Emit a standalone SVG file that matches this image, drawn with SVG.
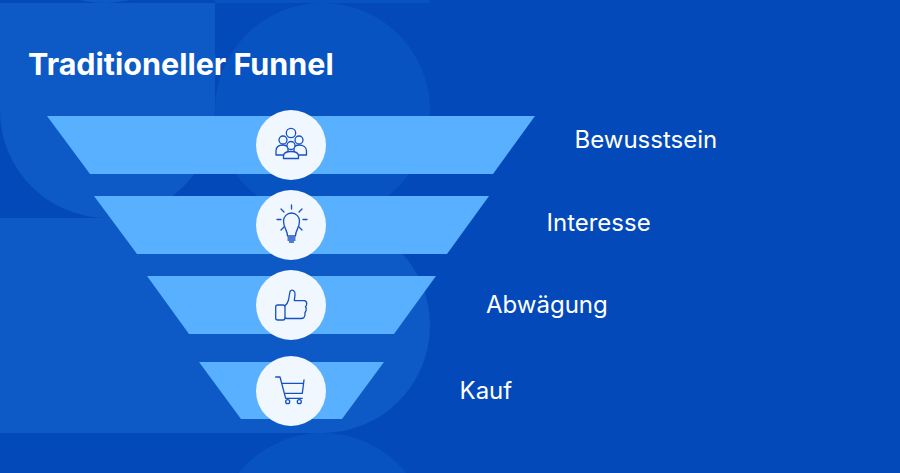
<svg xmlns="http://www.w3.org/2000/svg" width="900" height="473" viewBox="0 0 900 473">
<style>
.bg1{fill:#0d59c5}
.bg2{fill:#0853c2}
.band{fill:#58b0ff}
.disc{fill:#f0f7ff}
.ic{fill:none;stroke:#1650c2;stroke-width:1.3;stroke-linecap:round;stroke-linejoin:round}
.ic .o{fill:#f0f7ff}
.ttl{font-family:"Inter","Liberation Sans",sans-serif;font-weight:700;font-size:30.5px;fill:#fff}
.lbl{font-family:"Inter","Liberation Sans",sans-serif;font-weight:400;font-size:24px;fill:#fff}
</style>
<rect width="900" height="473" fill="#0349ba"/>
<g id="background">
<rect x="215" y="0" width="215" height="3" class="bg2"/>
<path class="bg1" d="M80 0H130Q115 3 105 3Q90 3 80 0Z"/>
<path class="bg1" d="M0 3H215V110.500A107.500 107.500 0 0 1 0 110.500Z"/>
<circle class="bg2" cx="322.500" cy="110.500" r="107.500"/>
<path class="bg1" d="M0 218H322.500A107.500 107.500 0 0 1 322.500 433H0Z"/>
<circle class="bg2" cx="322.500" cy="540.500" r="107.500"/>
</g>
<g id="title"><text class="ttl" x="28" y="75">Traditioneller Funnel</text></g>
<g id="stage-bewusstsein">
<polygon class="band" points="47,116 535,116 493,174 90,174"/>
<circle class="disc" cx="291" cy="145" r="35"/>
<g class="ic">
<circle class="o" cx="291" cy="133" r="4.700"/>
<circle class="o" cx="283" cy="140" r="4"/><circle class="o" cx="299" cy="140" r="4"/>
<path class="o" d="M276 155V151C276 147 279 145 283 145C285 145 287 146 288 147V155Z"/>
<path class="o" d="M306.500 155V151C306.500 147 303 145 299 145C297 145 295 146 294 147V155Z"/>
<circle class="o" cx="291" cy="145.500" r="4"/>
<path class="o" d="M283.500 158.500V156C283.500 153 287 151.500 291 151.500C295 151.500 298.500 153 298.500 156V158.500Z"/>
</g>
<text class="lbl" x="574.500" y="148">Bewusstsein</text>
</g>
<g id="stage-interesse">
<polygon class="band" points="94,196 489,196 447,254 137,254"/>
<circle class="disc" cx="291" cy="225" r="35"/>
<g class="ic">
<path d="M287.500 236C287.500 230 283.500 228 283.500 221A8 8 0 0 1 299.500 221C299.500 228 295.500 230 295.500 236Z"/>
<path d="M288 238H295M288 240H295M289.500 242H293.500"/>
<path d="M291.500 205V209M281 209L284 212M302 209L299 212M277 219.500H281M303 219.500H307M281 230L284 227M302 230L299 227"/>
</g>
<text class="lbl" x="546.500" y="231">Interesse</text>
</g>
<g id="stage-abwaegung">
<polygon class="band" points="147,276 436,276 394,334 189,334"/>
<circle class="disc" cx="291" cy="305" r="35"/>
<g class="ic">
<rect x="275.700" y="305" width="9.300" height="15" rx="2"/>
<path d="M285 305.700C287 304 288 302 288.500 300L290 291.500Q291.500 289.500 293.500 290.500Q295.500 292 295 295L294.300 300.700H304.500Q307 301.500 306.700 304Q306.500 306 305.500 306.500Q306.700 308 306 310.500Q305.500 312 305 312.500Q305.500 315 304 317.500Q303 318.500 301 318.500H287L285 318"/>
</g>
<text class="lbl" x="486" y="313">Abwägung</text>
</g>
<g id="stage-kauf">
<polygon class="band" points="199,362 384,362 342,419 241,419"/>
<circle class="disc" cx="291" cy="391" r="35"/>
<g class="ic">
<path d="M275.700 377H280L285.700 398.300H302.300M282 383.300H303.500M284.700 393.300H302.300M304 380L302.300 393.300"/>
<circle cx="287.700" cy="401.700" r="2"/><circle cx="299.300" cy="401.700" r="2"/>
</g>
<text class="lbl" x="459.500" y="399">Kauf</text>
</g>
<g id="connectors"></g>
</svg>
